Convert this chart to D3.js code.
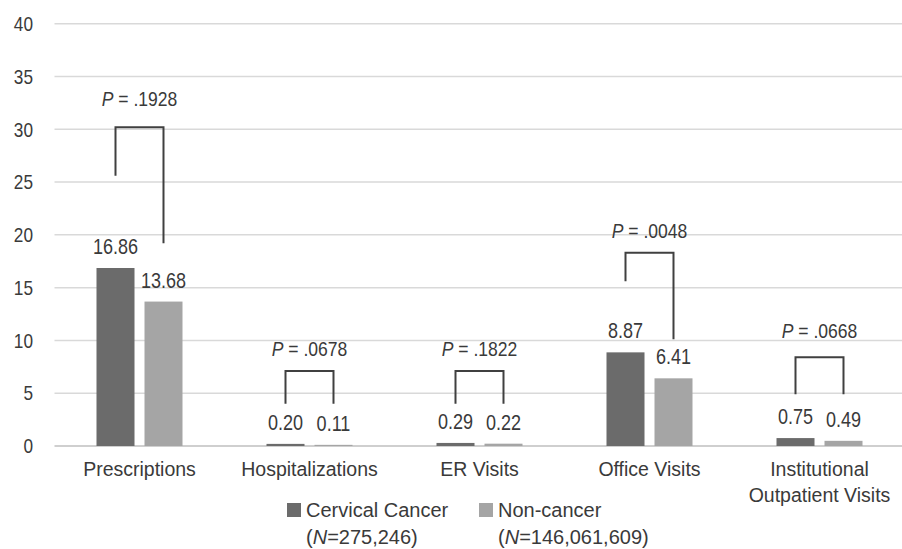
<!DOCTYPE html>
<html>
<head>
  <meta charset="utf-8">
  <title>Healthcare use</title>
  <script src="https://cdn.jsdelivr.net/npm/d3@7"></script>
  <style>
    body { margin: 0; background: #fff; }
    text { fill: #3a3a3a; }
  </style>
</head>
<body>
  <script>
    const categories = ['Prescriptions', 'Hospitalizations', 'ER Visits', 'Office Visits', 'Institutional Outpatient Visits']
    const series = ['Cervical Cancer', 'Non-cancer']
    const seriesN = ['275,246', '146,061,609']
    const cancerValues = [16.86, 0.20, 0.29, 8.87, 0.75]
    const noncancerValues = [13.68, 0.11, 0.22, 6.41, 0.49]
    const pValues = ['.1928', '.0678', '.1822', '.0048', '.0668']
    // bracket: top, left leg end, right leg end, label level (value units)
    const bracketTop = [30.2, 7.1, 7.1, 18.3, 8.4]
    const bracketLeft = [25.6, 4.0, 4.0, 15.6, 4.9]
    const bracketRight = [19.2, 4.0, 4.0, 10.1, 4.9]
    const pLabelLevel = [32.2, 8.5, 8.5, 19.7, 10.2]
    const yTicks = [0, 5, 10, 15, 20, 25, 30, 35, 40]

    const width = 902, height = 549
    const margin = { left: 54.5, right: -2.5, top: 23.7, bottom: 103 }
    const colors = ['#6b6b6b', '#a5a5a5']
    const font = '"Liberation Sans", Arial, sans-serif'
    const narrow = 0.82   // numbers are set in a condensed face

    const svg = d3.select('body').append('svg')
      .attr('width', width)
      .attr('height', height)

    const x0 = d3.scaleBand()
      .domain(categories)
      .range([margin.left, width - margin.right])
    const groupW = 86
    const x1 = d3.scaleBand()
      .domain(series)
      .range([0, groupW])
      .paddingInner(0.2083)
    const y = d3.scaleLinear()
      .domain([0, 40])
      .range([height - margin.bottom, margin.top])

    const gx = c => x0(c) + (x0.bandwidth() - groupW) / 2
    const barCenter = (c, s) => gx(c) + x1(s) + x1.bandwidth() / 2

    // gridlines
    svg.append('g')
      .selectAll('line')
      .data(yTicks)
      .enter()
      .append('line')
      .attr('x1', margin.left)
      .attr('x2', width)
      .attr('y1', d => y(d))
      .attr('y2', d => y(d))
      .attr('stroke', d => d === 0 ? '#bfbfbf' : '#d9d9d9')
      .attr('stroke-width', 1.5)

    // y tick labels
    const yAxis = d3.axisLeft(y).tickValues(yTicks).tickSize(0).tickPadding(0)
    const ya = svg.append('g')
      .attr('transform', 'translate(33,0)')
      .call(yAxis)
    ya.select('.domain').remove()
    ya.selectAll('.tick text')
      .attr('font-family', font)
      .attr('font-size', 21)
      .attr('fill', '#3a3a3a')
      .attr('transform', `scale(${narrow},1)`)

    const rows = categories.map((c, i) => ({
      c, i, vals: [cancerValues[i], noncancerValues[i]]
    }))

    // bars
    const grp = svg.selectAll('.grp')
      .data(rows)
      .enter()
      .append('g')
      .attr('class', 'grp')
      .attr('transform', d => `translate(${gx(d.c)},0)`)

    grp.selectAll('rect')
      .data(d => d.vals.map((v, j) => ({ s: series[j], v, j })))
      .enter()
      .append('rect')
      .attr('x', d => x1(d.s))
      .attr('width', x1.bandwidth())
      .attr('y', d => y(d.v))
      .attr('height', d => y(0) - y(d.v))
      .attr('fill', d => colors[d.j])

    grp.selectAll('.val')
      .data(d => d.vals.map((v, j) => ({ s: series[j], v, j })))
      .enter()
      .append('text')
      .attr('class', 'val')
      .attr('transform', d => `translate(${x1(d.s) + x1.bandwidth() / 2},${y(d.v) - 14}) scale(${narrow},1)`)
      .attr('text-anchor', 'middle')
      .attr('font-family', font)
      .attr('font-size', 22)
      .text(d => d.v.toFixed(2))

    // brackets
    svg.append('g')
      .selectAll('path')
      .data(rows)
      .enter()
      .append('path')
      .attr('fill', 'none')
      .attr('stroke', '#404040')
      .attr('stroke-width', 2)
      .attr('d', d => {
        const xl = barCenter(d.c, series[0]), xr = barCenter(d.c, series[1])
        return `M${xl},${y(bracketLeft[d.i])}V${y(bracketTop[d.i])}H${xr}V${y(bracketRight[d.i])}`
      })

    const pl = svg.append('g')
      .selectAll('text')
      .data(rows)
      .enter()
      .append('text')
      .attr('transform', d => `translate(${x0(d.c) + x0.bandwidth() / 2},${y(pLabelLevel[d.i])}) scale(0.9,1)`)
      .attr('text-anchor', 'middle')
      .attr('font-family', font)
      .attr('font-size', 19.5)
    pl.append('tspan').attr('font-style', 'italic').text('P')
    pl.append('tspan').text(d => ' = ' + pValues[d.i])

    // category labels
    const cl = svg.append('g')
      .selectAll('text')
      .data(categories)
      .enter()
      .append('text')
      .attr('x', d => x0(d) + x0.bandwidth() / 2)
      .attr('y', 476)
      .attr('text-anchor', 'middle')
      .attr('font-family', font)
      .attr('font-size', 19.5)
    cl.each(function (d) {
      const lines = d === 'Institutional Outpatient Visits' ? ['Institutional', 'Outpatient Visits'] : [d]
      const t = d3.select(this)
      lines.forEach((ln, k) => {
        t.append('tspan')
          .attr('x', x0(d) + x0.bandwidth() / 2)
          .attr('dy', k === 0 ? 0 : 26)
          .text(ln)
      })
    })

    // legend
    const legX = [287, 479]
    const leg = svg.append('g')
      .selectAll('g')
      .data(series)
      .enter()
      .append('g')
      .attr('transform', (d, i) => `translate(${legX[i]},503)`)
    leg.append('rect')
      .attr('width', 14)
      .attr('height', 14)
      .attr('fill', (d, i) => colors[i])
    leg.append('text')
      .attr('x', 19)
      .attr('y', 14)
      .attr('font-family', font)
      .attr('font-size', 20)
      .text(d => d)
    const l2 = leg.append('text')
      .attr('x', 19)
      .attr('y', 41)
      .attr('font-family', font)
      .attr('font-size', 20)
    l2.append('tspan').text('(')
    l2.append('tspan').attr('font-style', 'italic').text('N')
    l2.append('tspan').text((d, i) => '=' + seriesN[i] + ')')
  </script>
</body>
</html>
